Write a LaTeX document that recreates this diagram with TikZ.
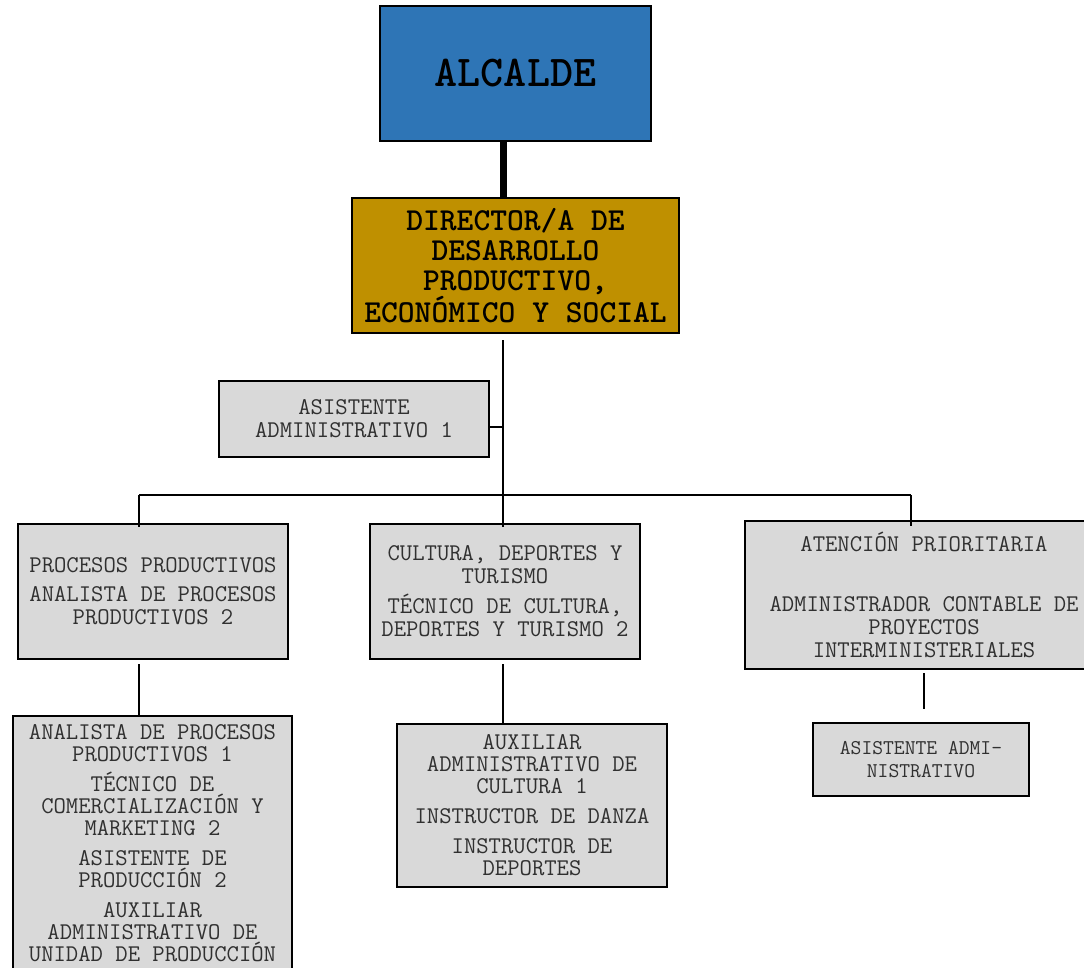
\documentclass[tikz,border=0pt]{standalone}
\usepackage{fontspec}
\definecolor{alcblue}{HTML}{2E75B6}
\definecolor{dirgold}{HTML}{BF9000}
\definecolor{boxgray}{HTML}{D9D9D9}
\definecolor{txtgray}{HTML}{303030}
\begin{document}
\begin{tikzpicture}[x=1pt,y=-1pt,
  box/.style={draw=black, line width=2.5pt, fill=boxgray, inner sep=0pt, align=center,
    text=txtgray, font=\ttfamily\fontsize{24}{23}\selectfont},
  topbox/.style={box, text=black},
  conn/.style={line width=2.5pt, black}]
\clip (0,0) rectangle (1084,968);
% nodes
\node[topbox, fill=alcblue, minimum width=271pt, minimum height=135pt,
  font=\ttfamily\bfseries\fontsize{44}{40}\selectfont] (alc) at (515.5,73.5) {ALCALDE};
\node[topbox, fill=dirgold, minimum width=327pt, minimum height=135pt,
  font=\ttfamily\bfseries\fontsize{32}{30}\selectfont] (dir) at (515.5,265.5)
  {DIRECTOR/A DE\\DESARROLLO\\PRODUCTIVO,\\ECONÓMICO Y SOCIAL};
\node[box, minimum width=270pt, minimum height=76pt] (asis1) at (354,419)
  {ASISTENTE\\ADMINISTRATIVO 1};
\node[box, minimum width=270pt, minimum height=135pt] (proc) at (153,591.5)
  {PROCESOS PRODUCTIVOS\\[6pt]ANALISTA DE PROCESOS\\PRODUCTIVOS 2};
\node[box, minimum width=270pt, minimum height=135pt] (cul) at (505,591.5)
  {CULTURA, DEPORTES Y\\TURISMO\\[7pt]TÉCNICO DE CULTURA,\\DEPORTES Y TURISMO 2};
\node[box, minimum width=358pt, minimum height=148pt] (aten) at (924,595)
  {ATENCIÓN PRIORITARIA\\[37pt]ADMINISTRADOR CONTABLE DE\\PROYECTOS\\INTERMINISTERIALES};
\node[box, minimum width=279pt, minimum height=255pt, font=\ttfamily\fontsize{24}{22}\selectfont] (ana) at (152.5,843.5)
  {ANALISTA DE PROCESOS\\PRODUCTIVOS 1\\[8pt]TÉCNICO DE\\COMERCIALIZACIÓN Y\\MARKETING 2\\[8pt]ASISTENTE DE\\PRODUCCIÓN 2\\[8pt]AUXILIAR\\ADMINISTRATIVO DE\\UNIDAD DE PRODUCCIÓN};
\node[box, minimum width=270pt, minimum height=163pt, font=\ttfamily\fontsize{24}{22}\selectfont] (aux) at (532,805.5)
  {AUXILIAR\\ADMINISTRATIVO DE\\CULTURA 1\\[8pt]INSTRUCTOR DE DANZA\\[8pt]INSTRUCTOR DE\\DEPORTES};
\node[box, minimum width=216pt, minimum height=73pt, font=\ttfamily\fontsize{21}{23}\selectfont] (asis2) at (921,759.5)
  {ASISTENTE ADMI-\\NISTRATIVO};
% connector coordinates
\coordinate (trunk) at (503,495);
\coordinate (busL) at (139,495);
\coordinate (busR) at (911,495);
\coordinate (ajoin) at (503,427);
% connectors
\draw[line width=7pt] (alc.south -| trunk) -- (dir.north -| trunk);
\draw[conn, shorten <=6pt, shorten >=-4pt] (dir.south -| trunk) -- (cul.north -| trunk);
\draw[conn] (ajoin -| asis1.east) -- (ajoin);
\draw[conn] (busL) -- (busR);
\draw[conn, shorten >=-4pt] (busL) -- (busL |- proc.north);
\draw[conn, shorten >=-6pt] (busR) -- (busR |- aten.north);
\draw[conn, shorten <=4pt] (proc.south -| busL) -- (ana.north -| busL);
\draw[conn, shorten <=4pt] (cul.south -| trunk) -- (aux.north -| trunk);
\draw[conn, shorten <=3pt, shorten >=13pt] (aten.south) -- (aten.south |- asis2.north);
\end{tikzpicture}
\end{document}
